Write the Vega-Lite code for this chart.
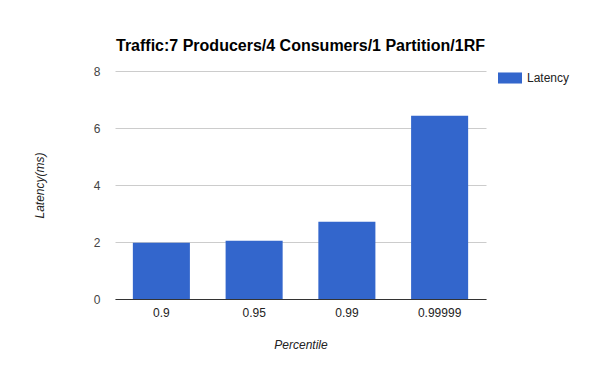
{
  "$schema": "https://vega.github.io/schema/vega-lite/v6.json",
  "autosize": "none",
  "width": 371,
  "height": 228,
  "padding": {"left": 115, "top": 71, "right": 114, "bottom": 72},
  "background": "white",
  "title": {
    "text": "Traffic:7 Producers/4 Consumers/1 Partition/1RF",
    "font": "Liberation Sans",
    "fontSize": 16,
    "fontWeight": "bold",
    "color": "#000000",
    "anchor": "middle",
    "offset": 11
  },
  "config": {
    "view": {"stroke": null},
    "font": "Liberation Sans"
  },
  "data": {
    "values": [
      {"Percentile": "0.9", "Latency": 1.975},
      {"Percentile": "0.95", "Latency": 2.04},
      {"Percentile": "0.99", "Latency": 2.71},
      {"Percentile": "0.99999", "Latency": 6.43}
    ]
  },
  "mark": {"type": "bar", "color": "#3366cc"},
  "encoding": {
    "x": {
      "field": "Percentile",
      "type": "nominal",
      "sort": null,
      "scale": {"paddingInner": 0.385, "paddingOuter": 0.1925},
      "axis": {
        "title": "Percentile",
        "titleFontStyle": "italic",
        "titleFontWeight": "normal",
        "titleFontSize": 12,
        "titleColor": "#222222",
        "titlePadding": 21,
        "labelAngle": 0,
        "labelFontSize": 12,
        "labelColor": "#222222",
        "labelPadding": 8,
        "ticks": false,
        "domainColor": "#333333",
        "domainWidth": 1
      }
    },
    "y": {
      "field": "Latency",
      "type": "quantitative",
      "scale": {"domain": [0, 8]},
      "axis": {
        "title": "Latency(ms)",
        "titleFontStyle": "italic",
        "titleFontWeight": "normal",
        "titleFontSize": 12,
        "titleColor": "#222222",
        "titlePadding": 47,
        "values": [0, 2, 4, 6, 8],
        "labelFontSize": 12,
        "labelColor": "#444444",
        "labelPadding": 15,
        "ticks": false,
        "domain": false,
        "gridColor": "#cccccc"
      }
    },
    "fill": {
      "datum": "Latency",
      "type": "nominal",
      "scale": {"range": ["#3366cc"]},
      "legend": {
        "title": null,
        "orient": "none",
        "legendX": 383,
        "legendY": -5,
        "symbolType": "M-1,-0.46L1,-0.46L1,0.46L-1,0.46Z",
        "symbolSize": 576,
        "symbolStrokeWidth": 0,
        "labelFontSize": 12,
        "labelColor": "#222222",
        "labelOffset": 5,
        "padding": 0
      }
    }
  }
}
